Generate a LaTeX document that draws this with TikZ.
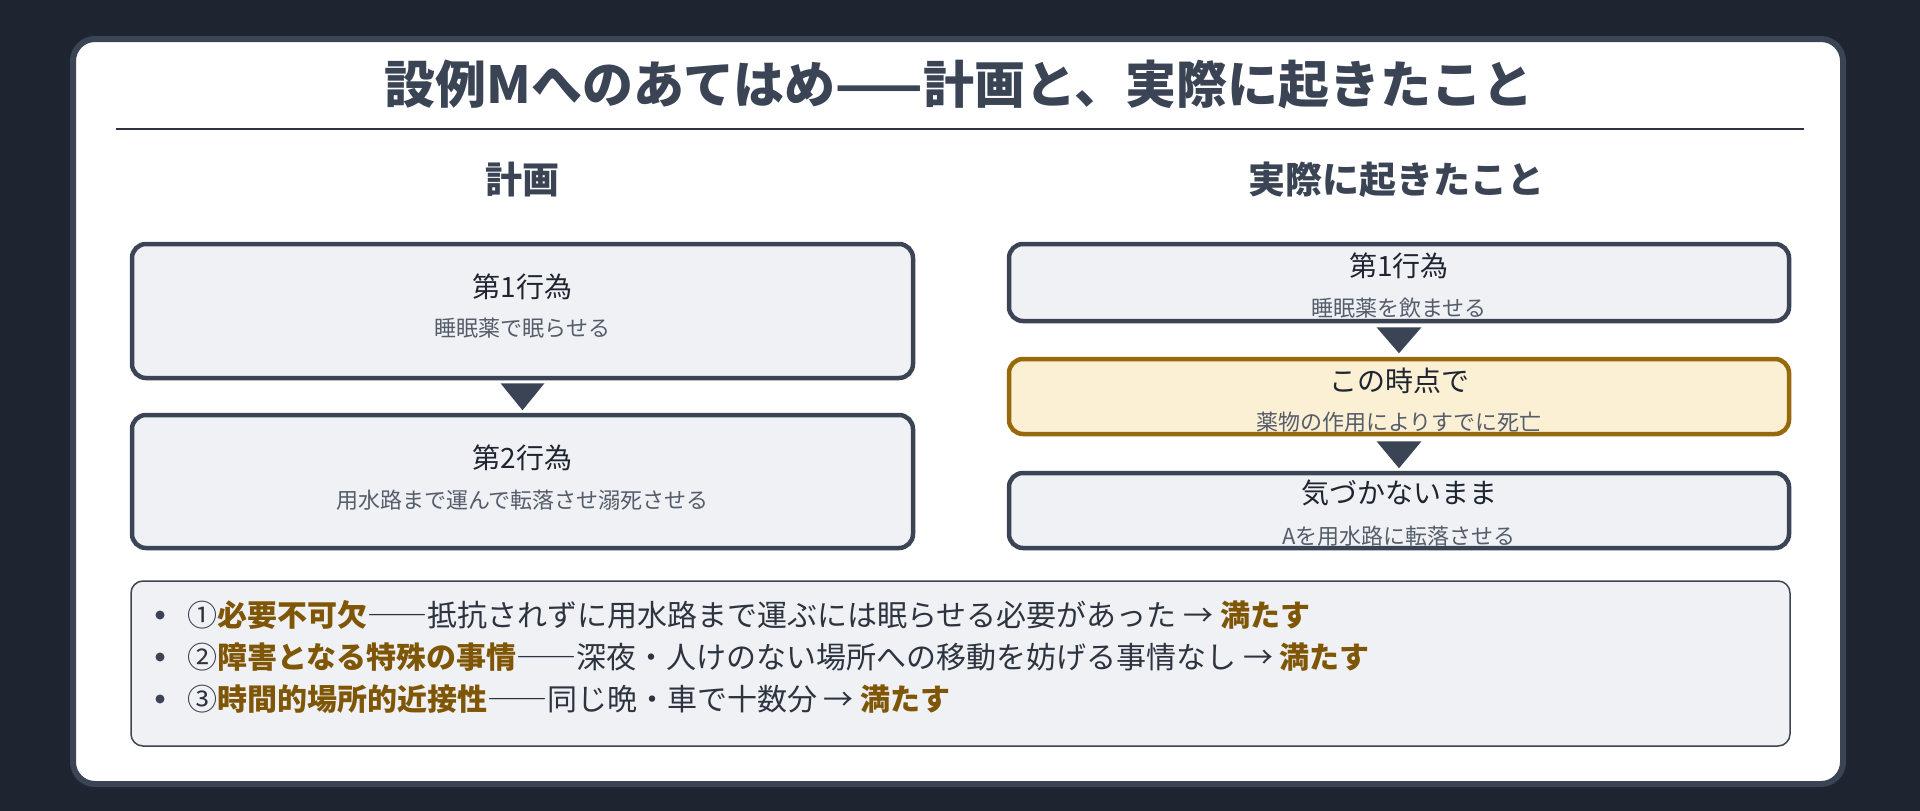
\documentclass[tikz,border=0pt]{standalone}
\usepackage{fontspec}
\setmainfont{Noto Sans CJK JP}
\definecolor{bg}{HTML}{1E2430}
\definecolor{slate}{HTML}{3A4454}
\definecolor{ink}{HTML}{2D3440}
\definecolor{titleink}{HTML}{1F2530}
\definecolor{subink}{HTML}{555D6A}
\definecolor{boxfill}{HTML}{EFF1F5}
\definecolor{gold}{HTML}{966A0B}
\definecolor{cream}{HTML}{FBEFD4}
\definecolor{term}{HTML}{7F5606}
\newcommand{\term}[1]{{\bfseries\color{term}#1}}
\begin{document}
\begin{tikzpicture}[x=1pt,y=-1pt,
  box/.style={draw=slate, line width=4.5pt, fill=boxfill, rounded corners=14pt, inner sep=0pt},
  hibox/.style={box, draw=gold, fill=cream},
  ttl/.style={font=\fontsize{28}{34}\selectfont, text=titleink, inner sep=0pt},
  subt/.style={font=\fontsize{22}{26}\selectfont, text=subink, inner sep=0pt},
  head/.style={font=\fontsize{37}{44}\selectfont\bfseries, text=slate, inner sep=0pt},
  bl/.style={font=\fontsize{30}{36}\selectfont, text=ink, anchor=west, inner sep=0pt},
  dot/.style={circle, fill=slate, minimum size=9pt, inner sep=0pt},
  tri/.style={fill=slate}]
\fill[bg] (0,0) rectangle (1920,811);
\useasboundingbox (0,0) rectangle (1920,811);
% panel
\node[draw=slate, line width=6pt, fill=white, rounded corners=22pt, minimum width=1770pt, minimum height=745pt, inner sep=0pt] (panel) at (958,411.5) {};
% title
\node[font=\fontsize{51}{61}\selectfont\bfseries, text=slate, inner sep=0pt] (title) at (959,85) {設例Mへのあてはめ——計画と、実際に起きたこと};
\coordinate (rl) at (116,129);
\coordinate (rr) at (1804,129);
\draw[ink, line width=2pt] (rl) -- (rr);
% headings
\node[head] (hl) at (522.5,180) {計画};
\node[head] (hr) at (1396,180) {実際に起きたこと};
% left boxes
\node[box, minimum width=781pt, minimum height=134pt] (p1) at (522.5,311) {};
\node[ttl] (p1t) at (522.5,287) {第1行為};
\node[subt] (p1s) at (522.5,328) {睡眠薬で眠らせる};
\node[box, minimum width=781pt, minimum height=133pt] (p2) at (522.5,481.5) {};
\node[ttl] (p2t) at (522.5,458) {第2行為};
\node[subt] (p2s) at (522.5,500) {用水路まで運んで転落させ溺死させる};
\fill[tri] ([xshift=-22pt,yshift=-3pt]p1.south) -- ([xshift=22pt,yshift=-3pt]p1.south) -- ([yshift=-30pt]p1.south) -- cycle;
% right boxes
\node[box, minimum width=780pt, minimum height=77pt] (r1) at (1399,282.5) {};
\node[ttl] (r1t) at (1399,265.5) {第1行為};
\node[subt] (r1s) at (1399,308) {睡眠薬を飲ませる};
\node[hibox, minimum width=780pt, minimum height=75pt] (r2) at (1399,396.5) {};
\node[ttl] (r2t) at (1399,381) {この時点で};
\node[subt] (r2s) at (1399,422) {薬物の作用によりすでに死亡};
\node[box, minimum width=780pt, minimum height=75pt] (r3) at (1399,510.5) {};
\node[ttl] (r3t) at (1399,492.5) {気づかないまま};
\node[subt] (r3s) at (1399,536) {Aを用水路に転落させる};
\fill[tri] ([xshift=-22.5pt,yshift=-4pt]r1.south) -- ([xshift=22.5pt,yshift=-4pt]r1.south) -- ([yshift=-30pt]r1.south) -- cycle;
\fill[tri] ([xshift=-22.5pt,yshift=-5pt]r2.south) -- ([xshift=22.5pt,yshift=-5pt]r2.south) -- ([yshift=-32pt]r2.south) -- cycle;
% bullet box
\node[draw=slate, line width=1.5pt, fill=boxfill, rounded corners=12pt, minimum width=1659pt, minimum height=165pt, inner sep=0pt] (bb) at (960.5,663.5) {};
\node[dot] (d1) at (160,615) {};
\node[dot] (d2) at (160,657) {};
\node[dot] (d3) at (160,699) {};
\node[bl] (b1) at (187,615) {①\term{必要不可欠}――抵抗されずに用水路まで運ぶには眠らせる必要があった → \term{満たす}};
\node[bl] (b2) at (187,657) {②\term{障害となる特殊の事情}――深夜・人けのない場所への移動を妨げる事情なし → \term{満たす}};
\node[bl] (b3) at (187,699) {③\term{時間的場所的近接性}――同じ晩・車で十数分 → \term{満たす}};
\end{tikzpicture}
\end{document}
